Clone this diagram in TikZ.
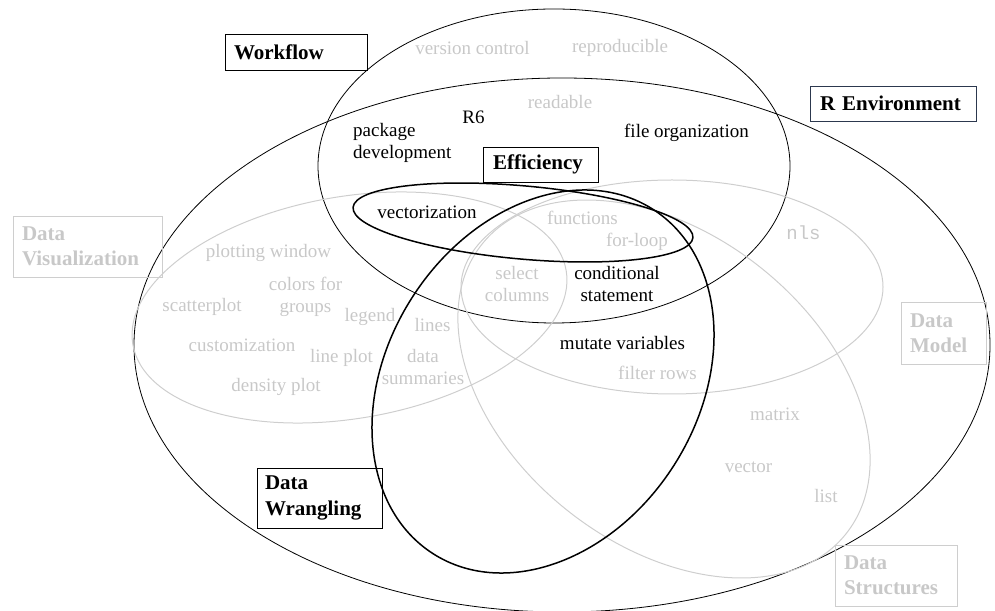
\documentclass[tikz,border=0pt]{standalone}
\usepackage{fontspec}
\setmainfont{Liberation Serif}
\newfontfamily\codefont{Liberation Mono}
\definecolor{palegray}{RGB}{206,206,206}
\definecolor{paletext}{RGB}{200,200,200}
\definecolor{slateframe}{RGB}{44,56,78}
\begin{document}
\begin{tikzpicture}[x=1pt,y=1pt,
  thinring/.style={draw=black,line width=0.8pt},
  boldring/.style={draw=black,line width=1.5pt},
  palering/.style={draw=palegray,line width=1pt},
  lbl/.style={inner sep=0pt,align=center,font=\fontsize{19}{22}\selectfont},
  darklbl/.style={lbl,text=black},
  palelbl/.style={lbl,text=paletext},
  hdr/.style={draw=black,line width=0.8pt,inner ysep=0pt,align=left,
    font=\bfseries\fontsize{21}{25.5}\selectfont},
  palehdr/.style={hdr,draw=palegray,text=paletext}]
\useasboundingbox (0,0) rectangle (995,610);

% ---- set outlines ----
% R environment (outer set)
\draw[thinring] (562,265) ellipse [x radius=428, y radius=267];
% Workflow
\draw[thinring] (554,444) ellipse [x radius=236, y radius=157];
% Data visualization
\draw[palering, rotate around={9.7:(349.5,302.5)}] (349.5,302.5) ellipse [x radius=219.8, y radius=111];
% Data model
\draw[palering] (672,323) ellipse [x radius=211, y radius=107];
% Data structures
\draw[palering, rotate around={-38.5:(664,221)}] (664,221) ellipse [x radius=232.6, y radius=155.2];
% Efficiency
\draw[boldring, rotate around={-5.1:(523,387.5)}] (523,387.5) ellipse [x radius=170.6, y radius=36.6];
% Data wrangling
\draw[boldring, rotate around={57.5:(543,228.5)}] (543,228.5) ellipse [x radius=204.3, y radius=155.5];

% ---- set titles ----
\node[hdr, minimum width=142, minimum height=36, text width=124pt, inner xsep=9pt] (tWorkflow) at (296,558) {Workflow};
\node[hdr, draw=slateframe, minimum width=166, minimum height=35, text width=146pt, inner xsep=10pt] (tREnv) at (893,506.5) {R Environment};
\node[hdr, minimum width=115, minimum height=35, text width=95pt, inner xsep=10pt] (tEff) at (540.5,445.5) {Efficiency};
\node[palehdr, minimum width=149, minimum height=61, text width=131pt, inner xsep=9pt] (tViz) at (87.5,363.5) {Data\\Visualization};
\node[palehdr, minimum width=85, minimum height=62, text width=67pt, inner xsep=9pt] (tModel) at (943.5,277) {Data\\Model};
\node[hdr, minimum width=125, minimum height=60, text width=109pt, inner xsep=8pt] (tWrang) at (319.5,112) {Data\\Wrangling};
\node[palehdr, minimum width=122, minimum height=61, text width=104pt, inner xsep=9pt] (tStruct) at (896,34.5) {Data\\Structures};

% ---- Workflow terms ----
\node[palelbl] (wVersion) at (472.5,562) {version control};
\node[palelbl] (wRepro) at (620,562) {reproducible};
\node[palelbl] (wRead) at (560,508) {readable};
\node[darklbl] (wRsix) at (473.5,493) {R6};
\node[darklbl, align=left, anchor=west] (wPkg) at (353,467.5) {package\\development};
\node[darklbl] (wFiles) at (686.5,477) {file organization};

% ---- Efficiency terms ----
\node[darklbl] (eVec) at (427,398) {vectorization};
\node[palelbl] (eFun) at (582.5,392) {functions};
\node[palelbl] (eLoop) at (637,368) {for-loop};
\node[darklbl] (eCond) at (617,326) {conditional\\statement};

% ---- Data model term ----
\node[palelbl, font=\codefont\fontsize{19}{22}\selectfont] (mNls) at (803.5,377) {nls};

% ---- Data visualization terms ----
\node[palelbl] (vWin) at (268.5,357) {plotting window};
\node[palelbl] (vCol) at (305.5,313.5) {colors for\\groups};
\node[palelbl] (vScat) at (202,303) {scatterplot};
\node[palelbl] (vLeg) at (370,293) {legend};
\node[palelbl] (vLines) at (432.5,285) {lines};
\node[palelbl] (vCust) at (242,265) {customization};
\node[palelbl] (vLine) at (341.5,252) {line plot};
\node[palelbl] (vSumm) at (423,242.5) {data\\summaries};
\node[palelbl] (vDens) at (276,223) {density plot};

% ---- Data wrangling terms ----
\node[palelbl] (dSel) at (517,326) {select\\columns};
\node[darklbl] (dMut) at (622.5,267) {mutate variables};
\node[palelbl] (dFilt) at (657.5,237) {filter rows};

% ---- Data structures terms ----
\node[palelbl] (sMat) at (775,196) {matrix};
\node[palelbl] (sVec) at (748.5,143) {vector};
\node[palelbl] (sList) at (826,114) {list};
\end{tikzpicture}
\end{document}
